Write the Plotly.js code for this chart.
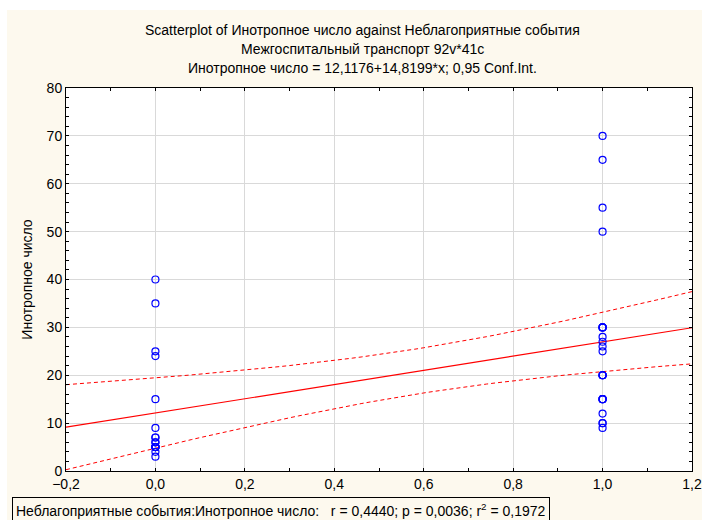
<!DOCTYPE html>
<html>
<head>
<meta charset="utf-8">
<script src="https://cdn.plot.ly/plotly-3.0.1.min.js"></script>
<style>
html,body{margin:0;padding:0;background:#ffffff;}
#chart{position:absolute;left:7px;top:10px;width:695px;height:510px;}
</style>
</head>
<body>
<div id="chart"></div>
<script>
// Data
const groupX = [0, 1];
const valuesAt0 = [40, 35, 25, 24, 15, 9, 7, 7, 6, 6, 5, 5, 5, 5, 5, 4, 3];
const valuesAt1 = [70, 65, 55, 50, 30, 30, 30, 30, 28, 27, 26, 25, 20, 20, 20, 20, 15, 15, 15, 15, 12, 10, 10, 9];
const xTicks = [-0.2, 0, 0.2, 0.4, 0.6, 0.8, 1.0, 1.2];
const yTicks = [0, 10, 20, 30, 40, 50, 60, 70, 80];
const titleLines = [
  'Scatterplot of Инотропное число against Неблагоприятные события',
  'Межгоспитальный транспорт 92v*41c',
  'Инотропное число = 12,1176+14,8199*x; 0,95 Conf.Int.'
];
const statsText = 'Неблагоприятные события:Инотропное число:&nbsp;&nbsp; r = 0,4440; p = 0,0036; r<sup>2</sup> = 0,1972';
const tCrit = 2.0227; // t(0.975, df=39)

const xs = [], ys = [];
valuesAt0.forEach(v => { xs.push(groupX[0]); ys.push(v); });
valuesAt1.forEach(v => { xs.push(groupX[1]); ys.push(v); });

// least squares fit and 0.95 confidence band
const n = xs.length;
const mx = xs.reduce((a,b)=>a+b,0)/n;
const my = ys.reduce((a,b)=>a+b,0)/n;
let sxx=0, sxy=0;
for (let i=0;i<n;i++){ sxx+=(xs[i]-mx)**2; sxy+=(xs[i]-mx)*(ys[i]-my); }
const b = sxy/sxx, a = my - b*mx;
let sse=0;
for (let i=0;i<n;i++){ sse+=(ys[i]-a-b*xs[i])**2; }
const s = Math.sqrt(sse/(n-2));
const gx=[], fit=[], up=[], lo=[];
for (let k=0;k<=70;k++){
  const x = -0.2 + k*0.02;
  const f = a + b*x;
  const h = tCrit*s*Math.sqrt(1/n + (x-mx)**2/sxx);
  gx.push(x); fit.push(f); up.push(f+h); lo.push(f-h);
}

const font = "'Liberation Sans', Arial, sans-serif";
const traces = [
  {x: gx, y: up, mode:'lines', line:{color:'#ff0000', width:1, dash:'4px,3px'}, hoverinfo:'skip'},
  {x: gx, y: lo, mode:'lines', line:{color:'#ff0000', width:1, dash:'4px,3px'}, hoverinfo:'skip'},
  {x: gx, y: fit, mode:'lines', line:{color:'#ff0000', width:1.2}, hoverinfo:'skip'},
  {x: xs, y: ys, mode:'markers', marker:{symbol:'circle-open', size:7, color:'#0000ff', line:{width:1.2, color:'#0000ff'}}}
];

// page pixel -> paper coords (plot area: x 66..692, y 88..471)
const py = p => (471 - p) / 383;
const px = p => (p - 66) / 626;
const titleY = [30, 49, 68];
const annotations = titleLines.map((t, i) => ({
  xref:'paper', yref:'paper', x: px(362), y: py(titleY[i]), xanchor:'center', yanchor:'middle',
  text: t, showarrow:false, font:{family:font, size:14, color:'#000000'}
}));
annotations.push({
  xref:'paper', yref:'paper', x: px(12), y: py(497), xanchor:'left', yanchor:'top',
  text: statsText, showarrow:false, font:{family:font, size:14, color:'#000000'},
  bordercolor:'#000000', borderwidth:1, borderpad:3, bgcolor:'#fdf9ee', align:'left'
});

const layout = {
  width: 695, height: 510,
  paper_bgcolor: '#fdf9ee',
  plot_bgcolor: '#ffffff',
  separators: ', ',
  showlegend: false,
  margin: {l:59, r:10, t:78, b:49, pad:0},
  font: {family: font, size: 14, color:'#000000'},
  xaxis: {
    range: [-0.2, 1.2], tickvals: xTicks, tickformat: '.1f',
    showgrid: true, gridcolor:'#d9d9d9', gridwidth:1,
    zeroline:false, showline:true, linecolor:'#000000', linewidth:1, mirror:'ticks',
    ticks:'inside', ticklen:3, tickcolor:'#000000',
    minor:{dtick:0.1, ticks:'inside', ticklen:3, tickcolor:'#000000', showgrid:false},
    tickfont:{family:font, size:14}
  },
  yaxis: {
    range: [0, 80], tickvals: yTicks,
    title: {text:'Инотропное число', font:{family:font, size:14}, standoff: 10},
    showgrid: true, gridcolor:'#d9d9d9', gridwidth:1,
    zeroline:false, showline:true, linecolor:'#000000', linewidth:1, mirror:'ticks',
    ticks:'inside', ticklen:3, tickcolor:'#000000',
    minor:{dtick:2, ticks:'inside', ticklen:3, tickcolor:'#000000', showgrid:false},
    tickfont:{family:font, size:14}
  },
  annotations: annotations
};

Plotly.newPlot('chart', traces, layout, {displayModeBar:false, staticPlot:true});
</script>
</body>
</html>
